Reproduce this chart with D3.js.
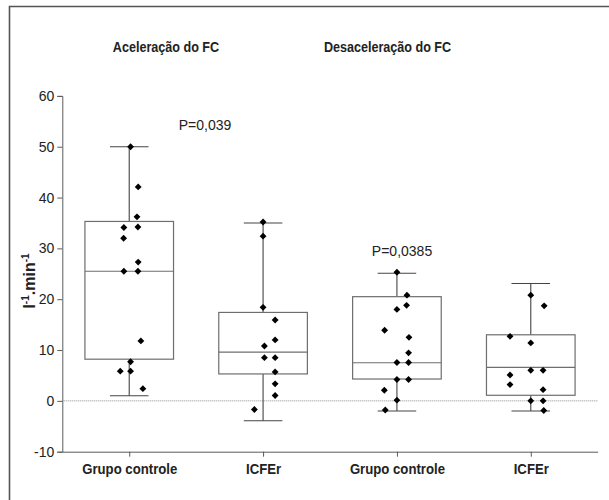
<!DOCTYPE html>
<html>
<head>
<meta charset="utf-8">
<script src="https://cdn.jsdelivr.net/npm/d3@7"></script>
<style>
  html, body { margin: 0; padding: 0; background: #fff; overflow: hidden; }
  svg { display: block; }
  text { font-family: "Liberation Sans", Arial, sans-serif; }
</style>
</head>
<body>
<svg id="chart" width="609" height="500"></svg>
<script>
// ---- Data ----
const categories = ["Grupo controle", "ICFEr", "Grupo controle", "ICFEr"];
const panelTitles = ["Aceleração do FC", "Desaceleração do FC"];
const pLabels = ["P=0,039", "P=0,0385"];
const yTicks = [-10, 0, 10, 20, 30, 40, 50, 60];

// box stats: [min, q1, median, q3, max]
const boxStats = [
  [1.0, 8.2, 25.5, 35.3, 50.0],
  [-3.9, 5.3, 9.6, 17.4, 35.0],
  [-2.0, 4.3, 7.5, 20.5, 25.1],
  [-2.0, 1.1, 6.6, 13.0, 23.1]
];

// individual values per group
const values1 = [50.0, 42.1, 36.2, 34.1, 34.2, 32.0, 27.3, 25.5, 25.5, 11.8, 7.7, 5.85, 5.85, 2.4];
const values2 = [35.2, 32.4, 18.4, 15.9, 12.0, 10.8, 8.5, 8.5, 5.7, 3.35, 1.06, -1.7];
const values3 = [25.3, 20.8, 18.0, 18.8, 13.9, 12.5, 9.45, 7.55, 7.55, 4.2, 4.2, 2.1, 0.14, -1.8];
const values4 = [20.8, 18.7, 12.7, 11.4, 5.1, 6.0, 6.0, 3.2, 2.2, 0, 0, -1.9];
// horizontal scatter offsets (in category units) as in the original plot
const jitter1 = [0.01, 0.067, 0.058, -0.04, 0.065, -0.042, 0.067, -0.04, 0.065, 0.087, 0.01, -0.067, 0.01, 0.102];
const jitter2 = [0, 0, 0, 0.09, 0.09, 0.01, 0.01, 0.09, 0.09, 0.09, 0.09, -0.065];
const jitter3 = [0, 0.075, 0, 0.072, -0.092, 0.09, 0.087, 0, 0.087, 0, 0.087, -0.094, 0, -0.087];
const jitter4 = [0, 0.1, -0.155, 0, -0.155, 0, 0.092, -0.155, 0.092, 0, 0.092, 0.097];

const groupValues = [values1, values2, values3, values4];
const groupJitter = [jitter1, jitter2, jitter3, jitter4];

// ---- Drawing ----
const svg = d3.select("#chart");
const x = d3.scaleLinear().domain([-0.5, 3.5]).range([62.3, 597.7]);
const y = d3.scaleLinear().domain([-10, 60]).range([451.7, 95.9]);

const axisColor = "#5a5a5a";
const boxColor = "#6e6e6e";
const textColor = "#222";

// frame
svg.append("path")
  .attr("d", "M9.5,500 L9.5,6.5 L609,6.5")
  .attr("fill", "none").attr("stroke", "#555").attr("stroke-width", 1.6);

// zero dotted line
svg.append("line")
  .attr("x1", x(-0.5)).attr("x2", x(3.5))
  .attr("y1", y(0)).attr("y2", y(0))
  .attr("stroke", "#8a8a8a").attr("stroke-width", 1).attr("stroke-dasharray", "1,1");

// y axis
const yAxis = svg.append("g")
  .attr("transform", `translate(${x(-0.5)},0)`)
  .call(d3.axisLeft(y).tickValues(yTicks).tickSize(5).tickPadding(3).tickFormat(d => String(d)));
yAxis.select(".domain").attr("stroke", axisColor);
yAxis.selectAll(".tick line").attr("stroke", axisColor);
yAxis.selectAll(".tick text").attr("font-size", 14).attr("fill", textColor)
  .style("font-family", '"Liberation Sans", Arial, sans-serif');

// x axis
const xAxis = svg.append("g")
  .attr("transform", `translate(0,${y(-10)})`)
  .call(d3.axisBottom(x).tickValues([0, 1, 2, 3]).tickSize(5)
    .tickFormat(i => categories[i]).tickSizeOuter(0));
xAxis.select(".domain").attr("stroke", axisColor);
xAxis.selectAll(".tick line").attr("stroke", axisColor);
xAxis.selectAll(".tick text")
  .attr("y", 22.5).attr("dy", 0)
  .attr("transform", "scale(0.85,1)")
  .attr("font-size", 15.5).attr("font-weight", "bold").attr("fill", textColor)
  .style("font-family", '"Liberation Sans", Arial, sans-serif');

// boxes
const boxHalf = 0.331, capHalf = 0.144;
boxStats.forEach((s, i) => {
  const g = svg.append("g");
  const [mn, q1, md, q3, mx] = s;
  const wc = "#444";
  g.append("line").attr("x1", x(i)).attr("x2", x(i)).attr("y1", y(q3)).attr("y2", y(mx))
    .attr("stroke", wc).attr("stroke-width", 1.1);
  g.append("line").attr("x1", x(i)).attr("x2", x(i)).attr("y1", y(q1)).attr("y2", y(mn))
    .attr("stroke", wc).attr("stroke-width", 1.1);
  g.append("line").attr("x1", x(i - capHalf)).attr("x2", x(i + capHalf)).attr("y1", y(mx)).attr("y2", y(mx))
    .attr("stroke", wc).attr("stroke-width", 1.1);
  g.append("line").attr("x1", x(i - capHalf)).attr("x2", x(i + capHalf)).attr("y1", y(mn)).attr("y2", y(mn))
    .attr("stroke", wc).attr("stroke-width", 1.1);
  g.append("rect").attr("x", x(i - boxHalf)).attr("width", x(i + boxHalf) - x(i - boxHalf))
    .attr("y", y(q3)).attr("height", y(q1) - y(q3))
    .attr("fill", "none").attr("stroke", boxColor).attr("stroke-width", 1.2);
  g.append("line").attr("x1", x(i - boxHalf)).attr("x2", x(i + boxHalf)).attr("y1", y(md)).attr("y2", y(md))
    .attr("stroke", boxColor).attr("stroke-width", 1.2);
});

// points (diamonds)
const diamond = d3.symbol().type(d3.symbolDiamond2).size(30);
groupValues.forEach((vals, i) => {
  svg.append("g").selectAll("path").data(vals).join("path")
    .attr("d", diamond)
    .attr("transform", (v, k) => `translate(${x(i + groupJitter[i][k])},${y(v)})`)
    .attr("fill", "#000");
});

// panel titles (centred above each pair of groups)
const titleCenters = [166, 387.5];
panelTitles.forEach((t, k) => {
  svg.append("text")
    .attr("transform", `translate(${titleCenters[k]},52) scale(0.9,1)`)
    .attr("text-anchor", "middle").attr("font-size", 14).attr("font-weight", "bold").attr("fill", textColor)
    .text(t);
});

// p values
svg.append("text").attr("x", 205).attr("y", y(53.3)).attr("text-anchor", "middle")
  .attr("font-size", 14).attr("fill", textColor).text(pLabels[0]);
svg.append("text").attr("x", 402).attr("y", y(28.5)).attr("text-anchor", "middle")
  .attr("font-size", 14).attr("fill", textColor).text(pLabels[1]);

// y label
const yl = svg.append("text")
  .attr("transform", `translate(35,281) rotate(-90)`)
  .attr("text-anchor", "middle").attr("font-size", 16).attr("font-weight", "bold").attr("fill", textColor);
yl.append("tspan").text("l");
yl.append("tspan").attr("dy", -6).attr("font-size", 10).text("-1");
yl.append("tspan").attr("dy", 6).text(".min");
yl.append("tspan").attr("dy", -6).attr("font-size", 10).text("-1");
</script>
</body>
</html>
